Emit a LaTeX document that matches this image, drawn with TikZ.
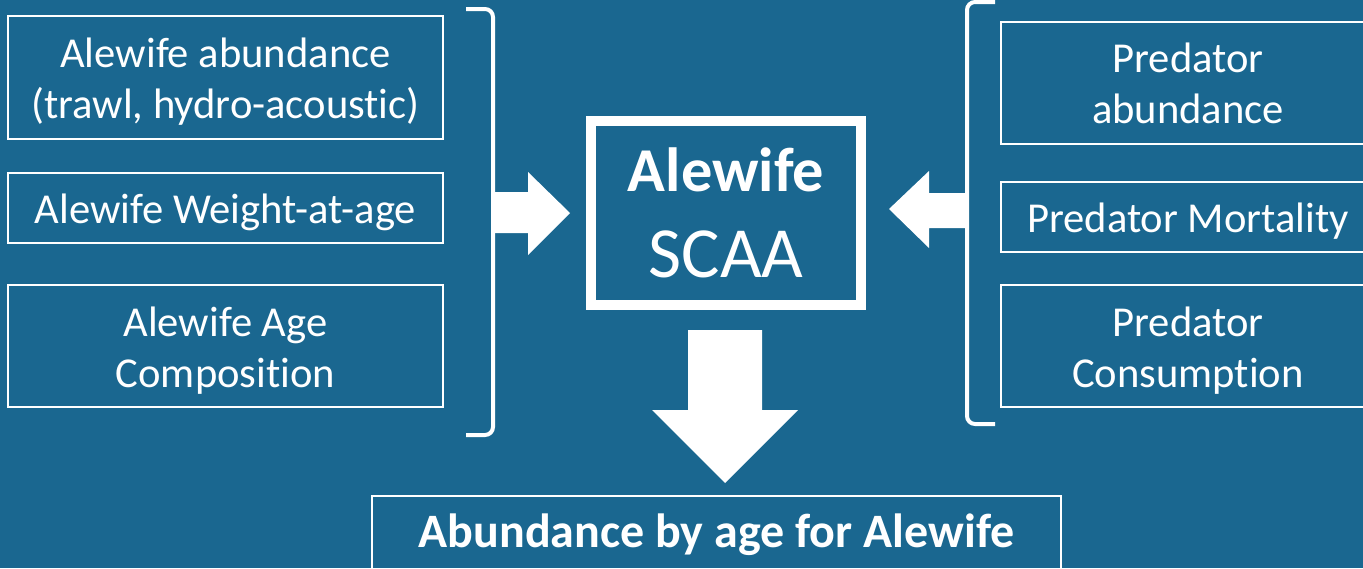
\documentclass[tikz,border=0pt]{standalone}
\usepackage{fontspec}
\setmainfont[Ligatures=NoCommon]{Carlito}
\usetikzlibrary{positioning,calc}
\definecolor{slide}{RGB}{26,103,144}
\newcommand{\upstrut}{\rule{0pt}{19pt}}

\begin{document}
\begin{tikzpicture}[x=0.5pt,y=-0.5pt,
  box/.style={draw=white, line width=1pt, text=white, align=center, inner sep=0pt, font=\fontsize{21.3}{25.5}\selectfont},
  brk/.style={draw=white, line width=2pt, rounded corners=4pt}]
\tikzstyle{blk}=[fill=white]
\clip (0,0) rectangle (1363,568);
\fill[slide] (0,0) rectangle (1363,568);

% alewife inputs
\node[box, minimum width=217.5pt, minimum height=61.5pt] (abund) at (225.5,77.5) {\upstrut Alewife abundance\\(trawl, hydro-acoustic)};
\node[box, minimum width=217.5pt, minimum height=35pt] (waa) at (225.5,208) {\upstrut Alewife Weight-at-age};
\node[box, minimum width=217.5pt, minimum height=61pt] (comp) at (225.5,346) {\upstrut Alewife Age\\Composition};

% predator inputs
\node[box, minimum width=187pt, minimum height=61pt] (pabund) at (1188,83) {Predator\\abundance};
\node[box, minimum width=187pt, minimum height=35pt] (pmort) at (1188,217) {\upstrut Predator Mortality};
\node[box, minimum width=187pt, minimum height=61pt] (pcons) at (1188,346) {\upstrut Predator\\Consumption};

% model and output
\node[box, line width=5pt, minimum width=135pt, minimum height=92pt, font=\fontsize{31.2}{43}\selectfont] (scaa) at (726,213) {\bfseries Alewife\\\fontsize{36}{43}\selectfont SCAA};
\node[box, minimum width=344.5pt, minimum height=39pt, font=\fontsize{24}{28}\selectfont\bfseries] (out) at (716.5,535) {Abundance by age for Alewife};

% brackets
\draw[brk] (466,9) -- (493,9) -- (493,435) -- (466,435);
\draw[brk] (995,2) -- (967,2) -- (967,424) -- (995,424);

% block arrows
\fill[blk] (493,192) -- (528,192) -- (528,172) -- (570,213) -- (528,255) -- (528,233) -- (493,233) -- cycle;
\fill[blk] (966,193) -- (929,193) -- (929,171) -- (889,209) -- (929,248) -- (929,228) -- (966,228) -- cycle;
\fill[blk] (688,330) -- (762,330) -- (762,410) -- (798,410) -- (725,483) -- (652,410) -- (688,410) -- cycle;

\end{tikzpicture}
\end{document}
